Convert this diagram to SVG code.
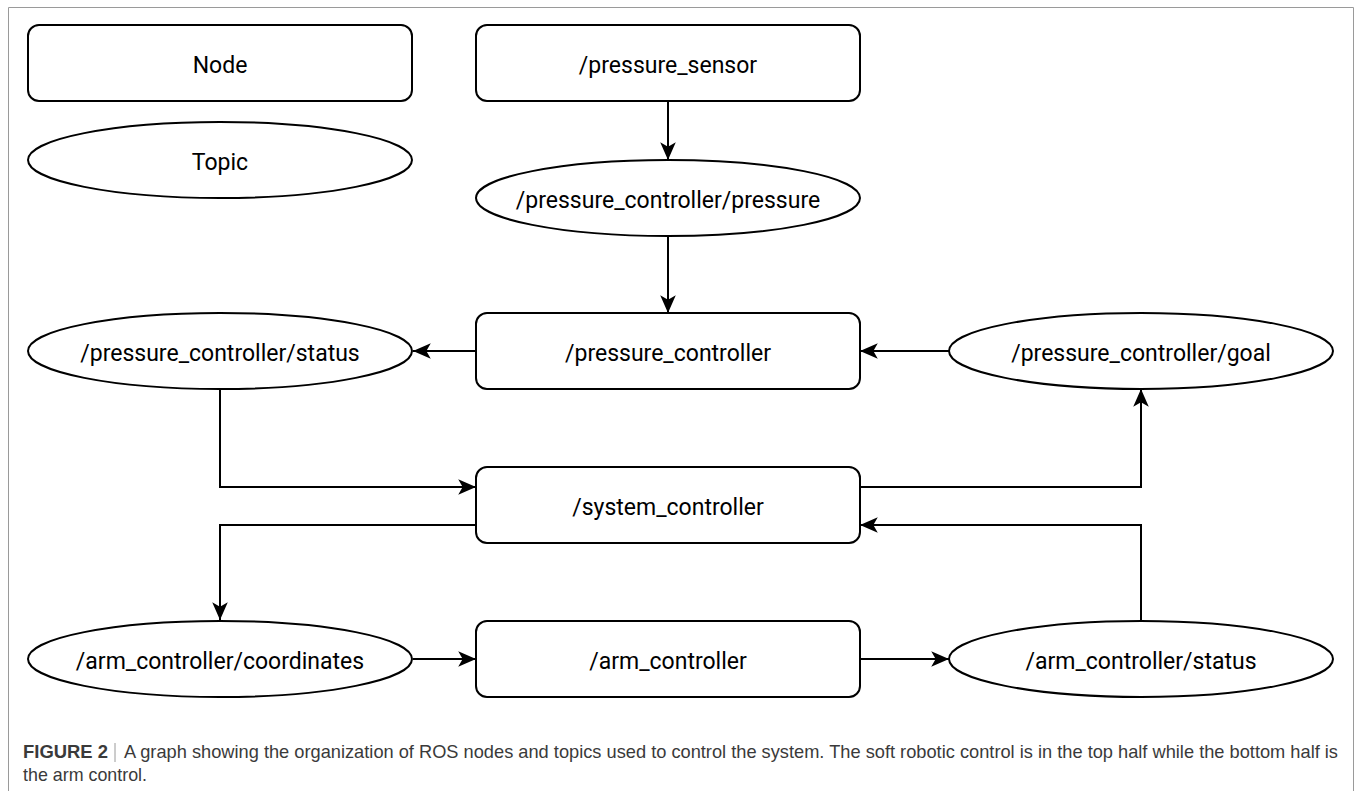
<svg xmlns="http://www.w3.org/2000/svg" width="1357" height="791" viewBox="0 0 1357 791">
<defs>
<style>
.node rect{fill:#fff;stroke:#000;stroke-width:2}
.topic ellipse{fill:#fff;stroke:#000;stroke-width:2}
.lbl{font-family:Roboto,"Liberation Sans",sans-serif;font-size:23px;fill:#000;text-anchor:middle}
.conn path{fill:none;stroke:#000;stroke-width:2;marker-end:url(#arr)}
.cap{font-family:"Liberation Sans Narrow","Liberation Sans",Arial,sans-serif;font-size:18.5px;fill:#3a3a3a}
</style>
<marker id="arr" markerUnits="userSpaceOnUse" markerWidth="20" markerHeight="20" viewBox="-17 -9 18 18" refX="0" refY="0" orient="auto">
<path d="M-16,-7 L0,0 L-16,7 L-12,0 Z" fill="#000"/>
</marker>
</defs>
<rect width="1357" height="791" fill="#fff"/>
<path d="M8.5,800 L8.5,7.5 L1353.5,7.5 L1353.5,800" fill="none" stroke="#9a9a9a" stroke-width="1"/>

<g class="conn" id="connectors">
<path d="M668,101 L668,160"/>
<path d="M668,236 L668,313"/>
<path d="M476,351 L413,351"/>
<path d="M949,351 L860,351"/>
<path d="M220,389 L220,487 L476,487"/>
<path d="M476,525 L220,525 L220,620"/>
<path d="M860,487 L1141,487 L1141,389"/>
<path d="M1141,620 L1141,525 L860,525"/>
<path d="M413,659 L476,659"/>
<path d="M860,659 L949,659"/>
</g>

<g class="node" id="legend-node"><rect x="28" y="25" width="384" height="76" rx="11"/><text class="lbl" x="220" y="73">Node</text></g>
<g class="topic" id="legend-topic"><ellipse cx="220" cy="160" rx="192" ry="38"/><text class="lbl" x="220" y="170">Topic</text></g>

<g class="node" id="pressure_sensor"><rect x="476" y="25" width="384" height="76" rx="11"/><text class="lbl" x="668" y="73">/pressure_sensor</text></g>
<g class="topic" id="pc_pressure"><ellipse cx="668" cy="198" rx="192" ry="38"/><text class="lbl" x="668" y="208">/pressure_controller/pressure</text></g>
<g class="node" id="pressure_controller"><rect x="476" y="313" width="384" height="76" rx="11"/><text class="lbl" x="668" y="361">/pressure_controller</text></g>
<g class="topic" id="pc_status"><ellipse cx="220" cy="351" rx="192" ry="38"/><text class="lbl" x="220" y="361">/pressure_controller/status</text></g>
<g class="topic" id="pc_goal"><ellipse cx="1141" cy="351" rx="192" ry="38"/><text class="lbl" x="1141" y="361">/pressure_controller/goal</text></g>
<g class="node" id="system_controller"><rect x="476" y="467" width="384" height="76" rx="11"/><text class="lbl" x="668" y="515">/system_controller</text></g>
<g class="topic" id="ac_coordinates"><ellipse cx="220" cy="659" rx="192" ry="38"/><text class="lbl" x="220" y="669">/arm_controller/coordinates</text></g>
<g class="node" id="arm_controller"><rect x="476" y="621" width="384" height="76" rx="11"/><text class="lbl" x="668" y="669">/arm_controller</text></g>
<g class="topic" id="ac_status"><ellipse cx="1141" cy="659" rx="192" ry="38"/><text class="lbl" x="1141" y="669">/arm_controller/status</text></g>

<g id="caption">
<text class="cap" x="23" y="758" textLength="85" lengthAdjust="spacingAndGlyphs" font-weight="bold" fill="#222">FIGURE 2</text>
<line x1="115" y1="743" x2="115" y2="762" stroke="#9a9a9a" stroke-width="1"/>
<text class="cap" x="124" y="758" textLength="1214" lengthAdjust="spacingAndGlyphs">A graph showing the organization of ROS nodes and topics used to control the system. The soft robotic control is in the top half while the bottom half is</text>
<text class="cap" x="23" y="781" textLength="124" lengthAdjust="spacingAndGlyphs">the arm control.</text>
</g>
</svg>
